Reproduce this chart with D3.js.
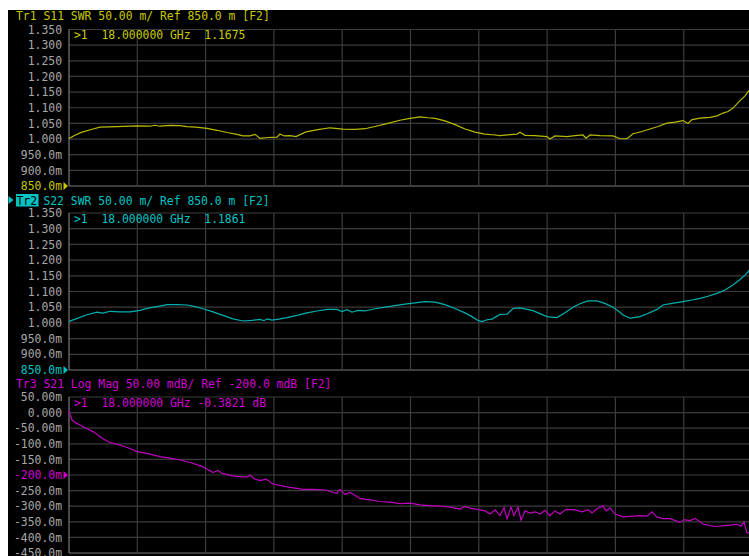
<!DOCTYPE html>
<html><head><meta charset="utf-8">
<script src="https://cdn.jsdelivr.net/npm/d3@7"></script>
<style>
html,body{margin:0;padding:0;background:#fff;}
svg{display:block;}
text{font-family:"DejaVu Sans Mono",monospace;font-size:11.4px;}
</style></head>
<body>
<script>
// ---------------- DATA ----------------
const swrTickValues = [1.35,1.30,1.25,1.20,1.15,1.10,1.05,1.00,0.95,0.90,0.85];
const swrTickLabels = ["1.350","1.300","1.250","1.200","1.150","1.100","1.050","1.000","950.0m","900.0m","850.0m"];
const s21TickValues = [50,0,-50,-100,-150,-200,-250,-300,-350,-400,-450];
const s21TickLabels = ["50.00m","0.000","-50.00m","-100.0m","-150.0m","-200.0m","-250.0m","-300.0m","-350.0m","-400.0m","-450.0m"];

const headers = ["Tr1 S11 SWR 50.00 m/ Ref 850.0 m [F2]","S22 SWR 50.00 m/ Ref 850.0 m [F2]","Tr3 S21 Log Mag 50.00 mdB/ Ref -200.0 mdB [F2]"];
const markers = [">1  18.000000 GHz  1.1675",">1  18.000000 GHz  1.1861",">1  18.000000 GHz -0.3821 dB"];

// S11 (SWR) frequency in GHz and values
const f11 = [0,0.158,0.343,0.633,0.817,1.265,1.792,2.135,2.267,2.398,2.662,2.925,3.110,3.347,3.637,3.900,4.164,4.428,4.586,4.770,4.902,5.034,5.245,5.482,5.561,5.666,5.824,5.982,6.246,6.562,6.878,7.221,7.537,7.801,8.065,8.407,8.723,8.987,9.251,9.461,9.646,9.909,10.173,10.437,10.700,10.964,11.227,11.359,11.623,11.807,11.886,12.018,12.282,12.597,12.676,12.808,13.125,13.335,13.546,13.625,13.731,13.994,14.337,14.521,14.706,14.864,15.101,15.312,15.523,15.760,15.971,16.182,16.313,16.419,16.630,16.893,17.078,17.236,17.368,17.499,17.684,17.816,18.000];
const s11 = [1.002,1.012,1.022,1.032,1.038,1.040,1.042,1.041,1.044,1.041,1.044,1.043,1.040,1.038,1.034,1.028,1.021,1.015,1.010,1.010,1.015,1.002,1.005,1.006,1.016,1.010,1.011,1.008,1.023,1.030,1.036,1.032,1.031,1.033,1.040,1.050,1.060,1.066,1.071,1.068,1.066,1.058,1.046,1.032,1.022,1.016,1.013,1.011,1.014,1.016,1.022,1.012,1.011,1.008,1.000,1.010,1.008,1.011,1.013,1.003,1.013,1.011,1.010,1.001,1.001,1.017,1.024,1.032,1.040,1.051,1.054,1.059,1.050,1.062,1.067,1.069,1.074,1.083,1.088,1.099,1.123,1.138,1.1675];

// S22 (SWR)
const f22 = [0,0.184,0.474,0.738,0.896,1.081,1.344,1.608,1.871,2.056,2.319,2.583,2.846,3.110,3.321,3.532,3.795,4.059,4.322,4.586,4.823,5.034,5.139,5.218,5.350,5.561,5.745,6.009,6.272,6.536,6.800,7.063,7.195,7.327,7.458,7.617,7.801,8.065,8.328,8.592,8.855,9.119,9.382,9.646,9.909,10.173,10.437,10.621,10.779,10.884,11.016,11.148,11.359,11.544,11.702,11.886,12.229,12.597,12.861,13.071,13.282,13.467,13.678,13.915,14.125,14.337,14.521,14.600,14.785,15.048,15.259,15.496,15.654,15.892,16.182,16.419,16.630,16.840,17.078,17.288,17.499,17.684,17.816,17.921,18.000];
const s22 = [1.005,1.013,1.026,1.034,1.031,1.037,1.035,1.035,1.040,1.046,1.052,1.058,1.058,1.057,1.052,1.045,1.035,1.024,1.013,1.006,1.008,1.011,1.007,1.013,1.009,1.013,1.017,1.024,1.032,1.038,1.043,1.043,1.036,1.042,1.034,1.040,1.038,1.045,1.050,1.055,1.060,1.064,1.068,1.066,1.058,1.046,1.032,1.020,1.008,1.004,1.010,1.012,1.027,1.028,1.046,1.048,1.039,1.020,1.017,1.032,1.050,1.061,1.070,1.070,1.062,1.050,1.034,1.025,1.015,1.020,1.030,1.043,1.057,1.062,1.068,1.073,1.078,1.085,1.094,1.105,1.121,1.138,1.152,1.166,1.1861];

// S21 (Log Mag, mdB)
const f21 = [0,0.026,0.079,0.184,0.290,0.474,0.633,0.896,1.081,1.344,1.608,1.792,2.135,2.398,2.662,2.925,3.189,3.453,3.637,3.795,3.927,4.032,4.322,4.507,4.691,4.770,4.876,5.034,5.192,5.376,5.561,5.745,6.003,6.167,6.431,6.773,6.958,7.063,7.142,7.274,7.406,7.537,7.669,7.933,8.196,8.460,8.723,8.987,9.251,9.514,9.778,10.041,10.173,10.305,10.437,10.568,10.753,10.964,11.095,11.227,11.359,11.464,11.544,11.649,11.728,11.834,11.913,12.018,12.150,12.282,12.413,12.545,12.676,12.808,12.940,13.098,13.335,13.520,13.678,13.783,13.915,14.073,14.152,14.258,14.389,14.600,14.864,15.048,15.232,15.364,15.496,15.654,15.839,16.102,16.208,16.366,16.498,16.709,16.893,17.051,17.288,17.473,17.604,17.710,17.789,17.868,18.000];
const s21 = [10,-5,-24,-33,-40,-52,-61,-84,-96,-104,-115,-125,-133,-141,-146,-152,-160,-170,-181,-192,-185,-195,-203,-205,-207,-200,-212,-218,-213,-229,-233,-238,-243,-246,-246,-248,-256,-259,-246,-262,-256,-265,-276,-280,-285,-287,-292,-290,-296,-298,-300,-303,-306,-309,-301,-306,-310,-315,-325,-312,-330,-305,-340,-303,-330,-303,-345,-315,-322,-318,-325,-313,-330,-315,-325,-310,-312,-318,-311,-322,-308,-299,-315,-305,-325,-334,-332,-330,-332,-318,-335,-340,-340,-352,-343,-346,-339,-357,-362,-365,-362,-360,-358,-364,-350,-386,-382];

// ---------------- LAYOUT ----------------
const W = 749, H = 556;
const X0 = 69, X1 = 752;
const panels = [
  {top:29.5, bottom:186, head:20, color:"#c8c800", trace:"#b9b900", f:f11, v:s11, ticks:swrTickValues, labels:swrTickLabels, dom:[0.85,1.35], ref:0.85},
  {top:213, bottom:370, head:205, color:"#00c4c4", trace:"#00b0b0", f:f22, v:s22, ticks:swrTickValues, labels:swrTickLabels, dom:[0.85,1.35], ref:0.85},
  {top:397, bottom:553, head:388, color:"#d000d0", trace:"#c000c0", f:f21, v:s21, ticks:s21TickValues, labels:s21TickLabels, dom:[-450,50], ref:-200}
];

const svg = d3.select("body").append("svg").attr("width",W).attr("height",H);
svg.append("rect").attr("x",8).attr("y",10).attr("width",W-8).attr("height",H-10).attr("fill","#000");

const x = d3.scaleLinear().domain([0,18]).range([X0,X1]);

panels.forEach((p,i)=>{
  const y = d3.scaleLinear().domain(p.dom).range([p.bottom,p.top]);
  const g = svg.append("g");
  // horizontal grid
  g.selectAll("line.h").data(p.ticks).enter().append("line")
    .attr("x1",X0).attr("x2",X1).attr("y1",d=>y(d)).attr("y2",d=>y(d))
    .attr("stroke",(d,k)=> k===p.ticks.length-1 ? "#7a7a7a" : "#3c3c3c").attr("stroke-width",1.2);
  // vertical grid
  g.selectAll("line.v").data(d3.range(1,11).map(k=>k*1.8)).enter().append("line")
    .attr("x1",d=>x(d)).attr("x2",d=>x(d)).attr("y1",p.top).attr("y2",p.bottom)
    .attr("stroke","#3c3c3c").attr("stroke-width",1.2);
  // left border
  g.append("line").attr("x1",X0).attr("x2",X0).attr("y1",p.top).attr("y2",p.bottom)
    .attr("stroke","#7a7a7a").attr("stroke-width",1.2);

  // axis labels
  const ax = d3.axisLeft(y).tickValues(p.ticks).tickFormat((d,k)=>p.labels[k]).tickSize(0).tickPadding(0);
  const axg = svg.append("g").attr("transform",`translate(62,0)`).call(ax);
  axg.select(".domain").remove();
  axg.selectAll("text").attr("font-family","DejaVu Sans Mono").attr("font-size","11.4px")
    .attr("fill",d=> d===p.ref ? p.color : "#a8a8a8");

  // ref triangle
  const ry = y(p.ref);
  svg.append("path").attr("d",`M63.5,${ry-4}L68,${ry}L63.5,${ry+4}Z`).attr("fill",p.color);

  // trace
  const clipId = "clip"+i;
  svg.append("clipPath").attr("id",clipId).append("rect")
    .attr("x",X0).attr("y",p.top-2).attr("width",X1-X0).attr("height",p.bottom-p.top+2);
  const line = d3.line().x(d=>x(d[0])).y(d=>y(d[1]));
  svg.append("path").datum(p.f.map((f,k)=>[f,p.v[k]]))
    .attr("clip-path",`url(#${clipId})`)
    .attr("d",line).attr("fill","none").attr("stroke",p.trace).attr("stroke-width",1.2);

  // marker text
  svg.append("text").attr("x",74).attr("y",p.top+9.5).attr("fill",p.color).attr("xml:space","preserve")
    .style("white-space","pre").text(markers[i]);

  // header
  if(i===1){
    svg.append("path").attr("d",`M8.5,${p.head-9}L13.5,${p.head-5}L8.5,${p.head-1}Z`).attr("fill",p.color);
    svg.append("rect").attr("x",16).attr("y",p.head-11).attr("width",22.5).attr("height",12.5).attr("fill",p.color);
    svg.append("text").attr("x",16.5).attr("y",p.head).attr("fill","#000").text("Tr2");
    svg.append("text").attr("x",16+4*6.85).attr("y",p.head).attr("fill",p.color).style("white-space","pre").text(headers[i]);
  } else {
    svg.append("text").attr("x",16).attr("y",p.head).attr("fill",p.color).style("white-space","pre").text(headers[i]);
  }
});
</script>
</body></html>
